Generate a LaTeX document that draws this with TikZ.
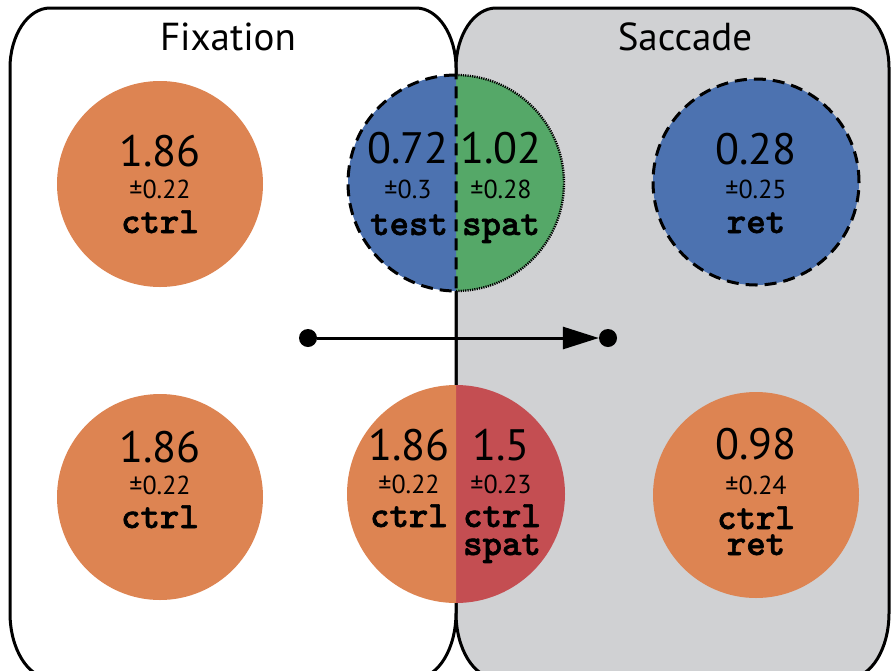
\documentclass[tikz,border=0pt]{standalone}
\usepackage{fontspec}
\setmainfont{PT Sans}
\newfontfamily\codefont{lmmonolt10-bold.otf}[FakeBold=1.6]
\usetikzlibrary{arrows.meta}

\definecolor{orangeC}{HTML}{DD8452}
\definecolor{blueC}{HTML}{4C72B0}
\definecolor{greenC}{HTML}{55A868}
\definecolor{redC}{HTML}{C44E52}
\definecolor{greyC}{HTML}{D0D1D3}

\tikzset{
  boxline/.style={line width=3pt, line join=round},
  title/.style={anchor=base, inner sep=0pt, font=\fontsize{39}{39}\selectfont},
  num/.style={anchor=base, inner sep=0pt, font=\fontsize{44}{44}\selectfont},
  err/.style={anchor=base, inner sep=0pt, font=\fontsize{26}{26}\selectfont},
  lab/.style={anchor=base, inner sep=0pt, font=\codefont\fontsize{37}{37}\selectfont},
  disc/.style={circle, inner sep=0pt, minimum size=206pt},
  dashedrim/.style={line width=3pt, dash pattern=on 12pt off 7pt},
  dottedrim/.style={line width=2.4pt, dash pattern=on 1.2pt off 1.1pt},
  dot/.style={circle, fill=black, inner sep=0pt, minimum size=18pt},
}

\begin{document}
\begin{tikzpicture}[x=1pt, y=-1pt]
\useasboundingbox (0,0) rectangle (891,670);
\clip (0,0) rectangle (891,670);

% Saccade panel (grey)
\draw[boxline, fill=greyC]
  (456,68) .. controls (456,35) and (474,8) .. (496,8) -- (849,8)
  .. controls (871,8) and (889,35) .. (889,68) -- (889,613)
  .. controls (889,649) and (871,678) .. (849,678) -- (496,678)
  .. controls (474,678) and (456,649) .. (456,613) -- cycle;
% Fixation panel (white)
\draw[boxline, fill=white]
  (10,68) .. controls (10,35) and (28,8) .. (50,8) -- (416,8)
  .. controls (438,8) and (456,35) .. (456,68) -- (456,613)
  .. controls (456,649) and (438,678) .. (416,678) -- (50,678)
  .. controls (28,678) and (10,649) .. (10,613) -- cycle;

\node[title] (tfix) at (228,50) {Fixation};
\node[title] (tsac) at (685,50) {Saccade};

% top row
\node[disc, fill=orangeC] (fa) at (160,184) {};
\node[num] (fa1) at (160,166) {1.86};
\node[err] (fa2) at (160,198) {±0.22};
\node[lab] (fa3) at (160,233) {ctrl};

\coordinate (m1) at (456,183);
\fill[greenC] ([yshift=108pt]m1) arc[start angle=90, end angle=-90, radius=108pt] -- cycle;
\fill[blueC] ([yshift=108pt]m1) arc[start angle=90, end angle=270, radius=108pt] -- cycle;
\draw[dottedrim] ([yshift=108pt]m1) arc[start angle=90, end angle=-90, radius=108pt];
\draw[dashedrim] ([yshift=108pt]m1) arc[start angle=90, end angle=270, radius=108pt] -- cycle;
\node[num] (ma1) at (408,163) {0.72};
\node[err] (ma2) at (408,198) {±0.3};
\node[lab] (ma3) at (409,235) {test};
\node[num] (mb1) at (501,163) {1.02};
\node[err] (mb2) at (501,198) {±0.28};
\node[lab] (mb3) at (501,235) {spat};

\node[disc, fill=blueC, draw=black, dashedrim] (sa) at (756,182) {};
\node[num] (sa1) at (756,164) {0.28};
\node[err] (sa2) at (756,198) {±0.25};
\node[lab] (sa3) at (756,233) {ret};

% transition arrow
\node[dot] (p0) at (308,338) {};
\node[dot] (p1) at (608,338) {};
\draw[line width=3pt, -{Triangle[length=36pt, width=22pt]}] (p0) -- (p1);

% bottom row
\node[disc, fill=orangeC] (fb) at (160,497) {};
\node[num] (fb1) at (160,462) {1.86};
\node[err] (fb2) at (160,494) {±0.22};
\node[lab] (fb3) at (160,528) {ctrl};

\coordinate (m2) at (456,494);
\fill[redC] ([yshift=109pt]m2) arc[start angle=90, end angle=-90, radius=109pt] -- cycle;
\fill[orangeC] ([yshift=109pt]m2) arc[start angle=90, end angle=270, radius=109pt] -- cycle;
\node[num] (mc1) at (409,460) {1.86};
\node[err] (mc2) at (409,493) {±0.22};
\node[lab] (mc3) at (409,527) {ctrl};
\node[num] (md1) at (501,460) {1.5};
\node[err] (md2) at (501,493) {±0.23};
\node[lab] (md3) at (502,527) {ctrl};
\node[lab] (md4) at (502,555) {spat};

\node[disc, fill=orangeC] (sb) at (756,495) {};
\node[num] (sb1) at (756,459) {0.98};
\node[err] (sb2) at (756,494) {±0.24};
\node[lab] (sb3) at (756,529) {ctrl};
\node[lab] (sb4) at (756,555) {ret};
\end{tikzpicture}
\end{document}
